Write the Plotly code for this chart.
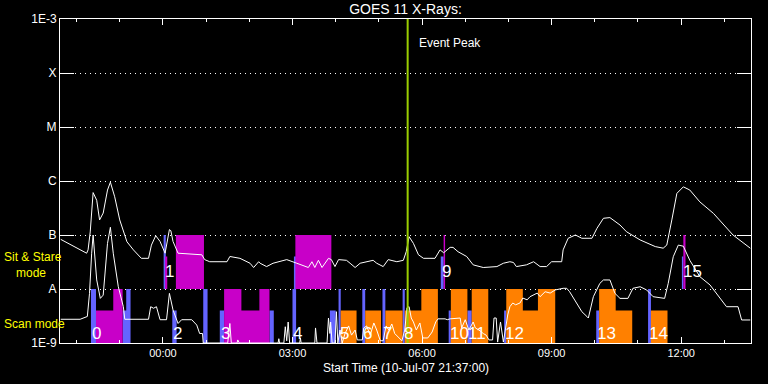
import math
from datetime import datetime
import plotly.graph_objects as go

# ---------------- data ----------------
START = "21:37"
END = "13:37"

long_t = ["21:38","22:00","22:14","22:16","22:19","22:23","22:28","22:32","22:37","22:43","22:47","22:53",
          "23:00","23:10","23:19","23:30","23:40","23:44","23:50","23:56","00:03","00:09","00:11","00:14",
          "00:21","00:54","00:58","01:05","01:29","01:33","01:47","02:01","02:06","02:13","02:15","02:24",
          "02:33","02:52","02:59","03:06","03:22","03:27","03:31","03:36","03:41","03:50","03:54","03:59",
          "04:04","04:15","04:20","04:27","04:34","04:52","04:57","05:06","05:13","05:25","05:34","05:38",
          "05:42","05:48","05:55","06:02","06:18","06:25","06:30","06:39","06:43","06:50","07:02","07:11",
          "07:25","07:44","07:53","08:02","08:07","08:11","08:25","08:35","08:44","08:53","09:00","09:14",
          "09:16","09:23","09:33","09:42","09:56","10:03","10:12","10:21","10:35","10:44","11:03","11:24",
          "11:35","11:40","11:47","11:54","12:03","12:12","12:26","12:45","13:12","13:36"]
long_f = [8.3e-8,5.7e-8,4.6e-8,5.3e-8,1.14e-7,6.1e-7,4.4e-7,1.9e-7,2.55e-7,6.8e-7,9.5e-7,5.1e-7,
          1.9e-7,7.5e-8,5.3e-8,3.7e-8,3.7e-8,6.5e-8,9.7e-8,7.6e-8,4.6e-8,1.26e-7,1.2e-7,7.6e-8,
          4.6e-8,4.3e-8,3.5e-8,3.2e-8,3.2e-8,4.0e-8,3.7e-8,3.0e-8,2.5e-8,3.2e-8,3.0e-8,2.6e-8,
          3.0e-8,3.5e-8,3.2e-8,3.0e-8,2.5e-8,3.2e-8,2.5e-8,3.4e-8,2.5e-8,3.7e-8,3.5e-8,2.6e-8,
          3.5e-8,3.4e-8,3.0e-8,2.5e-8,3.0e-8,3.4e-8,3.0e-8,2.6e-8,3.5e-8,3.2e-8,3.4e-8,4.9e-8,
          9.3e-8,7.0e-8,4.3e-8,3.7e-8,3.7e-8,5.3e-8,4.7e-8,5.9e-8,5.9e-8,4.9e-8,4.0e-8,2.8e-8,
          2.5e-8,2.6e-8,3.0e-8,3.2e-8,3.1e-8,2.6e-8,2.8e-8,3.2e-8,2.6e-8,2.6e-8,3.2e-8,3.2e-8,
          5.3e-8,8.7e-8,1.0e-7,8.7e-8,8.7e-8,1.33e-7,2.04e-7,2.1e-7,1.53e-7,1.15e-7,8.1e-8,6.1e-8,
          5.7e-8,6.5e-8,1.9e-7,5.9e-7,7.8e-7,6.8e-7,4.1e-7,2.5e-7,1.0e-7,5.7e-8]

short_t = ["21:38","22:05","22:15","22:18","22:21","22:23","22:28","22:33","22:37","22:43","22:47","22:51",
           "22:58","23:05","23:07","23:40","23:43","23:47","23:51","23:56","00:05","00:09","00:14","00:21",
           "00:26","00:40","00:47","00:51","00:55","00:56","01:30","01:33","01:35","01:43","01:44","01:46",
           "02:40","02:41","02:42","02:48","02:50","02:52","02:54","02:56","03:10","03:11","03:12","03:31",
           "03:32","03:34","03:48","03:50","03:52","03:53","03:55","03:59","04:01","04:03","04:06","04:09",
           "04:13","04:18","04:22","04:27","04:30","04:37","04:39","04:43","04:48","04:53","04:57","05:02",
           "05:06","05:10","05:14","05:18","05:22","05:28","05:32","05:36","05:39","05:42","05:45","05:48",
           "05:52","05:57","06:01","06:08","06:14","06:19","06:22","06:32","06:35","06:39","06:53","06:55",
           "07:00","07:05","07:11","07:14","07:19","07:25","07:29","07:33","07:38","07:40","07:43","07:45",
           "07:49","07:53","07:58","07:59","08:02","08:06","08:10","08:16","08:20","08:26","08:30","08:35",
           "08:40","08:44","08:51","08:58","09:05","09:16","09:21","09:25","09:33","09:42","09:49","09:51",
           "09:58","10:07","10:12","10:21","10:28","10:35","10:46","10:53","11:03","11:12","11:21","11:37",
           "11:42","11:49","11:56","12:03","12:12","12:26","12:40","12:54","13:03","13:19","13:24","13:36"]
short_f = [2.75e-9,2.75e-9,3.1e-9,8.3e-9,4.6e-8,1.0e-7,1.47e-8,6.7e-9,7.7e-9,7.0e-8,1.39e-7,4.6e-8,
           1.1e-8,4.7e-9,2.75e-9,2.75e-9,4.7e-9,4.4e-9,4.7e-9,2.7e-9,2.7e-9,8.3e-9,4.1e-9,2.3e-9,
           2.7e-9,2.7e-9,2.15e-9,1.5e-9,1.5e-9,1.0e-9,1.0e-9,2.3e-9,1.0e-9,1.0e-9,1.14e-9,1.0e-9,
           1.0e-9,1.2e-9,1.0e-9,1.0e-9,2.0e-9,1.1e-9,2.45e-9,1.0e-9,1.0e-9,1.24e-9,1.0e-9,1.0e-9,
           1.9e-9,1.0e-9,1.0e-9,2.9e-9,1.5e-9,2.45e-9,1.0e-9,1.0e-9,3.8e-9,1.0e-9,1.74e-9,1.0e-9,
           1.5e-9,2.07e-9,1.4e-9,1.74e-9,1.14e-9,1.14e-9,1.9e-9,2.07e-9,1.4e-9,2.35e-9,1.74e-9,1.1e-9,
           1.1e-9,2.07e-9,1.74e-9,2.25e-9,1.5e-9,1.24e-9,1.1e-9,1.74e-9,4.5e-9,4.7e-9,2.9e-9,2.45e-9,
           1.74e-9,2.35e-9,1.24e-9,1.24e-9,1.6e-9,2.45e-9,2.8e-9,2.8e-9,2.7e-9,2.8e-9,2.9e-9,1.9e-9,
           2.7e-9,1.74e-9,2.45e-9,1.9e-9,1.74e-9,1.5e-9,1.4e-9,1.14e-9,1.14e-9,2.9e-9,2.9e-9,1.04e-9,
           2.45e-9,1.04e-9,2.7e-9,3.3e-9,4.7e-9,5.5e-9,5.1e-9,5.5e-9,6.8e-9,6.3e-9,7.2e-9,7.7e-9,
           8.4e-9,7.2e-9,8.9e-9,8.4e-9,9.6e-9,1.03e-8,1.03e-8,8.9e-9,5.8e-9,3.8e-9,3.1e-9,2.9e-9,
           7.2e-9,1.27e-8,1.47e-8,1.47e-8,8.3e-9,6.7e-9,6.7e-9,1.03e-8,1.1e-8,9.6e-9,7.2e-9,6.7e-9,
           1.27e-8,3.96e-8,6.5e-8,6.2e-8,3.4e-8,1.69e-8,1.19e-8,6.7e-9,4.7e-9,4.7e-9,2.67e-9,2.67e-9]

# Scan-mode observation blocks (base 1E-9)
scan_start = ["22:20","22:27","22:51","23:04","23:09","00:13","00:56","01:19","01:25","01:49","02:14","02:28",
              "03:00","03:52","04:04","04:07","04:37","04:41","05:05","05:09","05:33","05:36","05:59","06:37",
              "06:40","07:03","07:09","07:54","07:57","08:20","08:41","10:02","10:06","10:29","11:14","11:18"]
scan_end   = ["22:27","22:51","23:04","23:09","23:15","00:19","01:02","01:25","01:49","02:14","02:28","02:34",
              "03:05","04:00","04:07","04:29","04:41","05:03","05:09","05:33","05:36","05:59","06:22","06:40",
              "07:03","07:09","07:32","07:57","08:20","08:41","09:05","10:06","10:29","10:52","11:18","11:41"]
scan_top   = [1e-8,4e-9,1e-8,4e-9,1e-8,4e-9,1e-8,4e-9,1e-8,4e-9,1e-8,4e-9,
              1e-8,4e-9,1e-8,4e-9,1e-8,4e-9,1e-8,4e-9,1e-8,4e-9,1e-8,4e-9,
              1e-8,4e-9,1e-8,4e-9,1e-8,4e-9,1e-8,4e-9,1e-8,4e-9,1e-8,4e-9]
scan_color = ["blue","magenta","magenta","blue","blue","blue","blue","blue","magenta","magenta","magenta","blue",
              "blue","blue","blue","orange","blue","orange","blue","orange","blue","orange","orange","blue",
              "orange","blue","orange","blue","orange","orange","orange","blue","orange","orange","blue","orange"]

# Sit & Stare observation blocks (base 1E-8)
sit_start = ["00:01","00:03","00:18","03:02","03:04","06:26","06:30","12:01","12:03"]
sit_end   = ["00:04","00:06","00:57","03:05","03:54","06:30","06:32","12:03","12:06"]
sit_top   = [1e-7,4e-8,1e-7,4e-8,1e-7,4e-8,1e-7,4e-8,1e-7]
sit_color = ["blue","magenta","magenta","blue","magenta","blue","magenta","blue","magenta"]

# Numbered observation labels
label_num  = ["0","1","2","3","4","5","6","7","8","9","10","11","12","13","14","15"]
label_time = ["22:20","00:01","00:13","01:19","03:00","04:04","04:37","05:05","05:33","06:26","06:37",
              "07:03","07:54","10:02","11:14","12:01"]
label_mode = ["scan","sit","scan","scan","scan","scan","scan","scan","scan","sit","scan",
              "scan","scan","scan","scan","sit"]

peak_time = "05:40"

ytick_vals = [1e-9, 1e-8, 1e-7, 1e-6, 1e-5, 1e-4, 1e-3]
ytick_text = ["1E-9", "A", "B", "C", "M", "X", "1E-3"]

# ---------------- helpers ----------------
def ts(s):
    p = [int(v) for v in s.split(":")]
    day = 10 if p[0] >= 21 else 11
    return datetime(2007, 7, day, p[0], p[1], p[2] if len(p) > 2 else 0)

COLORS = {"blue": "#6464ff", "magenta": "#c800c8", "orange": "#ff8000"}
FONT = "Liberation Sans"

fig = go.Figure()

def add_blocks(starts, ends, tops, colors, base):
    for cname, col in COLORS.items():
        xs, ys = [], []
        for a, b, top, c in zip(starts, ends, tops, colors):
            if c != cname:
                continue
            ta, tb = ts(a), ts(b)
            xs += [ta, tb, tb, ta, ta, None]
            ys += [base, base, top, top, base, None]
        if xs:
            fig.add_trace(go.Scatter(x=xs, y=ys, mode="lines", fill="toself",
                                     fillcolor=col, line=dict(width=0, color=col),
                                     hoverinfo="skip", showlegend=False))

add_blocks(scan_start, scan_end, scan_top, scan_color, 1e-9)
add_blocks(sit_start, sit_end, sit_top, sit_color, 1e-8)

fig.add_trace(go.Scatter(x=[ts(t) for t in long_t], y=long_f, mode="lines",
                         line=dict(color="white", width=1), showlegend=False, hoverinfo="skip"))
fig.add_trace(go.Scatter(x=[ts(t) for t in short_t], y=short_f, mode="lines",
                         line=dict(color="white", width=1), showlegend=False, hoverinfo="skip"))
fig.add_trace(go.Scatter(x=[ts(peak_time), ts(peak_time)], y=[1e-9, 1e-3], mode="lines",
                         line=dict(color="#9acd00", width=2), showlegend=False, hoverinfo="skip"))

annotations = []
label_y = {"scan": math.log10(1.53e-9), "sit": math.log10(2.07e-8)}
for n, t, m in zip(label_num, label_time, label_mode):
    annotations.append(dict(x=ts(t), y=label_y[m], xref="x", yref="y", text=n, showarrow=False,
                            xanchor="left", yanchor="middle", xshift=-1,
                            font=dict(color="white", size=17, family=FONT)))

annotations.append(dict(x=ts(peak_time), y=0.926, xref="x", yref="paper", text="Event Peak",
                        showarrow=False, xanchor="left", yanchor="middle", xshift=9,
                        font=dict(color="white", size=12, family=FONT)))
annotations.append(dict(x=-0.084, y=0.24, xref="paper", yref="paper",
                        text="Sit & Stare<br>\u200b\u2002\u2002mode",
                        showarrow=False, xanchor="left", yanchor="middle", align="left",
                        font=dict(color="#ffff00", size=12, family=FONT)))
annotations.append(dict(x=-0.084, y=0.0586, xref="paper", yref="paper", text="Scan mode",
                        showarrow=False, xanchor="left", yanchor="middle",
                        font=dict(color="#ffff00", size=12, family=FONT)))
annotations.append(dict(x=0.5, y=-0.0787, xref="paper", yref="paper",
                        text="Start Time (10-Jul-07 21:37:00)", showarrow=False,
                        xanchor="center", yanchor="middle",
                        font=dict(color="white", size=12, family=FONT)))

fig.update_layout(
    width=768, height=384,
    margin=dict(l=60, r=17, t=19, b=41),
    paper_bgcolor="black", plot_bgcolor="black",
    showlegend=False, hovermode=False,
    title=dict(text="GOES 11 X-Rays:", x=0.5, xref="paper", xanchor="center",
               y=1 - 9.5 / 384, yref="container", yanchor="middle",
               font=dict(color="white", size=14, family=FONT)),
    annotations=annotations,
    xaxis=dict(type="date", range=[ts(START), ts(END)], tickformat="%H:%M",
               tick0=ts("00:00"), dtick=3 * 3600 * 1000,
               ticks="inside", ticklen=6, tickcolor="white", tickwidth=1,
               showline=True, linecolor="white", linewidth=1, mirror="allticks",
               showgrid=False, zeroline=False,
               tickfont=dict(color="white", size=11, family=FONT),
               minor=dict(tick0=ts("00:00"), dtick=3600 * 1000, ticks="inside", ticklen=3,
                          tickcolor="white", showgrid=False)),
    yaxis=dict(type="log", range=[-9, -3], tickvals=ytick_vals, ticktext=ytick_text,
               ticks="inside", ticklen=14, tickcolor="white", tickwidth=1,
               showline=True, linecolor="white", linewidth=1, mirror="allticks",
               showgrid=True, gridcolor="white", gridwidth=1, griddash="1px,4px",
               zeroline=False, tickfont=dict(color="white", size=12, family=FONT)),
)

fig.write_html("out.html", config={"displayModeBar": False, "staticPlot": True},
               post_script="document.body.style.margin='0';document.body.style.background='black';")
